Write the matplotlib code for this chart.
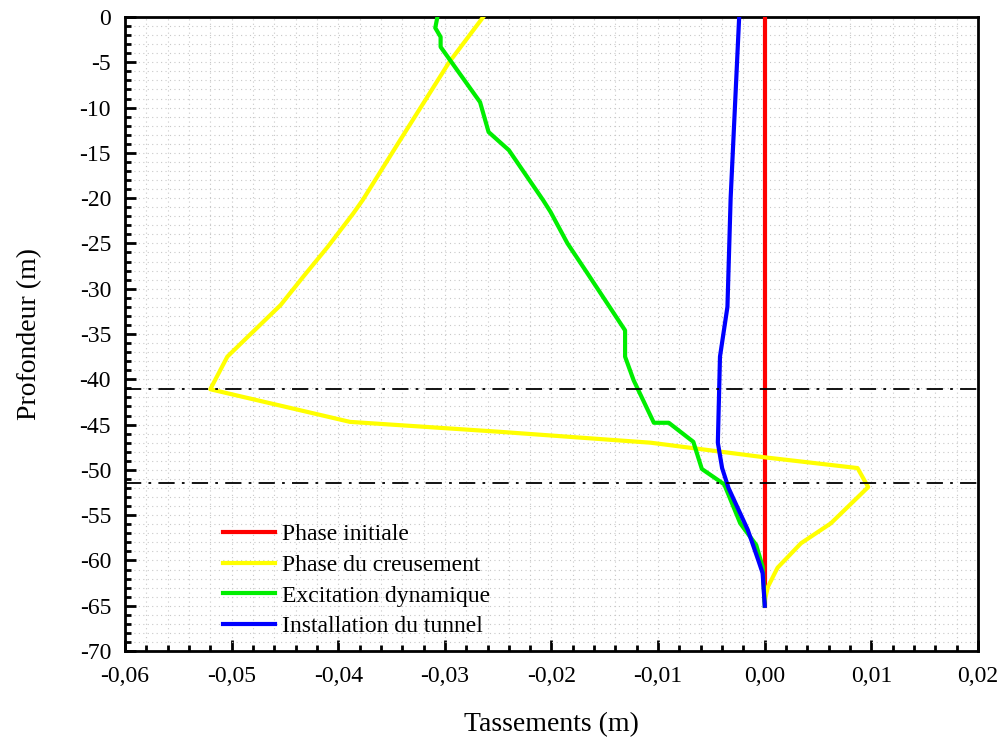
import matplotlib
matplotlib.use("Agg")
import matplotlib.pyplot as plt
from matplotlib.ticker import MultipleLocator, FuncFormatter

plt.rcParams["font.family"] = ["Liberation Serif", "DejaVu Serif"]

# depth (m) and settlement (m) for each phase
initial_depth = [0, -65]
initial_x = [0.0, 0.0]

creus_depth = [0, -5, -13.6, -20.2, -21.7, -25.4, -28.7, -31.8, -35.1, -37.5,
               -41.1, -44.7, -45.8, -46.6, -47.0, -48.6, -49.8, -51.9, -55.9,
               -58.1, -60.8, -62.9, -64.4]
creus_x = [-0.0264, -0.0296, -0.0342, -0.0377, -0.0386, -0.0410, -0.0433,
           -0.0454, -0.0483, -0.0504, -0.0520, -0.0389, -0.0248, -0.0154,
           -0.0107, -0.0001, 0.0087, 0.0097, 0.0062, 0.0034, 0.0012, 0.0003, 0.0]

dyn_depth = [0, -1.2, -2.2, -3.3, -9.4, -12.7, -14.7, -20.2, -21.5, -25, -28,
             -34.6, -37.5, -40.1, -44.8, -44.8, -46.9, -49.9, -51.6, -55.9,
             -58.3, -60.7, -65]
dyn_x = [-0.0307, -0.0309, -0.0304, -0.0304, -0.0267, -0.0259, -0.0240,
         -0.0208, -0.0201, -0.0185, -0.0168, -0.0131, -0.0131, -0.0123,
         -0.0104, -0.0090, -0.0067, -0.0059, -0.0038, -0.0023, -0.0008,
         -0.0002, 0.0]

tun_depth = [0, -10, -20, -32, -37.5, -47, -49.8, -52, -56.6, -60, -61.4, -65]
tun_x = [-0.0024, -0.0028, -0.0032, -0.0035, -0.0042, -0.0044, -0.0040,
         -0.0034, -0.0016, -0.0006, -0.0002, 0.0]

tunnel_top = -41.1
tunnel_bottom = -51.5

fig = plt.figure(figsize=(10.03, 7.42), dpi=100)
ax = fig.add_axes([0.1246, 0.1226, 0.8505, 0.8545])

ax.plot(initial_x, initial_depth, color="#ff0000", lw=3, label="Phase initiale", zorder=3)
ax.plot(creus_x, creus_depth, color="#ffff00", lw=3, label="Phase du creusement", zorder=3)
ax.plot(dyn_x, dyn_depth, color="#00ee00", lw=3, label="Excitation dynamique", zorder=3)
ax.plot(tun_x, tun_depth, color="#0000ff", lw=3, label="Installation du tunnel", zorder=4)

for d in (tunnel_top, tunnel_bottom):
    ax.axhline(d, color="black", lw=1.3, dashes=(9, 4, 1.5, 4), zorder=5)

ax.set_xlim(-0.06, 0.02)
ax.set_ylim(-70, 0)
ax.xaxis.set_major_locator(MultipleLocator(0.01))
ax.xaxis.set_minor_locator(MultipleLocator(0.002))
ax.yaxis.set_major_locator(MultipleLocator(5))
ax.yaxis.set_minor_locator(MultipleLocator(1))
ax.xaxis.set_major_formatter(FuncFormatter(lambda v, p: f"{v:.2f}".replace(".", ",").replace("-0,00", "0,00")))
ax.yaxis.set_major_formatter(FuncFormatter(lambda v, p: f"{v:.0f}"))

ax.grid(which="both", color="#c8c8c8", lw=0.8, ls=(0, (1, 3)), zorder=0)
ax.tick_params(which="both", direction="in", top=False, right=False, labelsize=17, width=2)
ax.tick_params(which="major", length=8)
ax.tick_params(axis="x", which="major", pad=11)
ax.tick_params(axis="y", which="major", pad=10)
ax.tick_params(which="minor", length=4)
for s in ax.spines.values():
    s.set_linewidth(2)

ax.set_xlabel("Tassements (m)", fontsize=20, labelpad=18)
ax.set_ylabel("Profondeur (m)", fontsize=20, labelpad=27)

ax.legend(loc="lower left", bbox_to_anchor=(0.09, -0.012), frameon=False, fontsize=17,
          handlelength=2.2, handletextpad=0.3, labelspacing=0.39)

fig.savefig("out.png", dpi=100)
